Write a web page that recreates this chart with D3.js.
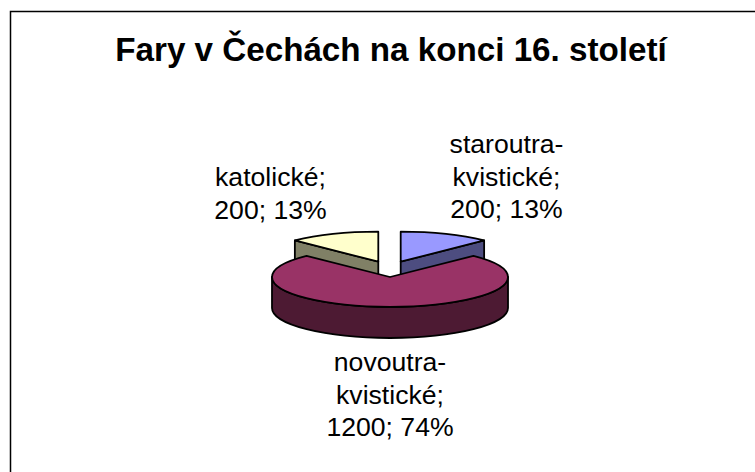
<!DOCTYPE html>
<html><head><meta charset="utf-8">
<style>html,body{margin:0;padding:0;background:#fff}svg{display:block}</style>
<script src="https://cdn.jsdelivr.net/npm/d3@7"></script>
</head><body>
<svg id="c" width="755" height="472"></svg>
<script>
const categories = ["staroutrakvistické", "novoutrakvistické", "katolické"];
const values = [200, 1200, 200];
const percents = [13, 74, 13];
const labelLines = [
  ["staroutra-", "kvistické;", "200; 13%"],
  ["novoutra-", "kvistické;", "1200; 74%"],
  ["katolické;", "200; 13%"]
];
const topColors = ["#9999FF", "#993366", "#FFFFCC"];
const wallColors = ["#4D4D80", "#4D1A33", "#808066"];
const titleText = "Fary v Čechách na konci 16. století";

const svg = d3.select("#c");
const W = 755, H = 472;
const font = "'Liberation Sans', Arial, sans-serif";

svg.append("rect").attr("x", 10.5).attr("y", 11.5).attr("width", W).attr("height", H)
  .attr("fill", "#fff").attr("stroke", "#000").attr("stroke-width", 1.5);

svg.append("text").attr("x", 391).attr("y", 60.5).attr("text-anchor", "middle")
  .attr("font-family", font).attr("font-weight", "bold").attr("font-size", 33.2)
  .attr("fill", "#000").text(titleText);

const rx = 118, ry = 30, depth = 31, cx = 390, cy = 277;
const explode = [{dx: 10.7, dy: -15.3}, {dx: 0, dy: 0}, {dx: -11.7, dy: -15.3}];

const pie = d3.pie().sort(null);
const arcs = pie(values);
const arcGen = d3.arc().innerRadius(0).outerRadius(rx);
const px = a => rx * Math.sin(a);
const py = a => -ry * Math.cos(a);

function wallPath(a0, a1) {
  return `M${px(a0)},${py(a0)}A${rx},${ry} 0 0 1 ${px(a1)},${py(a1)}` +
         `L${px(a1)},${py(a1) + depth}A${rx},${ry} 0 0 0 ${px(a0)},${py(a0) + depth}Z`;
}
function cutPath(a) {
  return `M0,0L${px(a)},${py(a)}L${px(a)},${py(a) + depth}L0,${depth}Z`;
}

[0, 2, 1].forEach(i => {
  const d = arcs[i], e = explode[i];
  const g = svg.append("g").attr("transform", `translate(${cx + e.dx},${cy + e.dy})`);
  const style = s => s.attr("stroke", "#000").attr("stroke-width", 1.8).attr("stroke-linejoin", "round");
  if (i === 0) style(g.append("path").attr("d", cutPath(d.endAngle)).attr("fill", wallColors[i]));
  if (i === 2) style(g.append("path").attr("d", cutPath(d.startAngle)).attr("fill", wallColors[i]));
  if (i === 1) style(g.append("path").attr("d", wallPath(Math.PI / 2, Math.PI * 1.5)).attr("fill", wallColors[i]));
  style(g.append("path").attr("d", arcGen(d))
    .attr("transform", `scale(1,${ry / rx})`)
    .attr("vector-effect", "non-scaling-stroke")
    .attr("fill", topColors[i]));
});

const labelPos = [[506.5, 153], [390, 371], [270.5, 186]];
labelLines.forEach((lines, i) => {
  const t = svg.append("text").attr("text-anchor", "middle")
    .attr("font-family", font).attr("font-size", 26.6).attr("fill", "#000");
  lines.forEach((l, j) => t.append("tspan").attr("x", labelPos[i][0])
    .attr("y", labelPos[i][1] + j * 32.5).text(l));
});
</script>
</body></html>
